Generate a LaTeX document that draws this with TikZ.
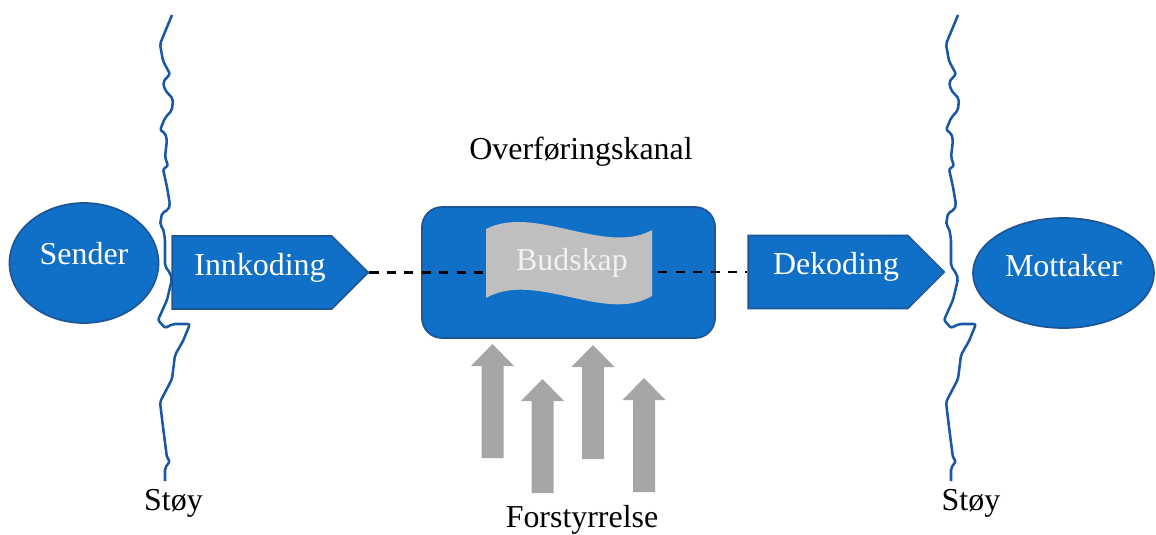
\documentclass[tikz,border=0pt]{standalone}
\usepackage{fontspec}
\setmainfont{Liberation Serif}
\usetikzlibrary{shapes.symbols}
\usetikzlibrary{shapes.geometric}

\definecolor{boxblue}{RGB}{16,111,198}
\definecolor{edgeblue}{RGB}{30,85,150}
\definecolor{noiseblue}{RGB}{25,88,165}
\definecolor{msggray}{RGB}{191,191,191}
\definecolor{pushgray}{RGB}{166,166,166}

\begin{document}
\begin{tikzpicture}[x=0.025cm, y=-0.025cm,
    every node/.style={font=\fontsize{22.7}{27}\selectfont},
    party/.style={ellipse, draw=edgeblue, fill=boxblue, line width=1.2pt, text=white, inner sep=0pt},
    coder/.style={signal, signal to=east, signal pointer angle=90, draw=edgeblue, fill=boxblue,
      line width=1.2pt, text=white, inner sep=0pt, text depth=0.42cm,
      minimum width=4.9cm, minimum height=1.825cm},
    noise/.style={draw=noiseblue, line width=1.8pt, line join=round, rounded corners=1.5pt},
    push/.style={fill=pushgray},
    link/.style={line width=1.9pt, dash pattern=on 6.5pt off 5.9pt}]

        \useasboundingbox (0,0) rectangle (1156,534);

        % Noise lines (left and right)
        \foreach \sx in {0,786}{
          \begin{scope}[shift={(\sx,0)}]
            \draw[noise] (172,15) -- (160,44) -- (163,61) -- (170,74) -- (163,82) -- (165,90)
              -- (173,99) -- (172,110) -- (165,118) -- (160,130) -- (165,133) -- (167,140)
              -- (165,157) -- (168,166) -- (163,169) -- (167,187) -- (170,205) -- (168,210)
              -- (162,213) -- (160,225) -- (163,228) -- (165,239) -- (165,266) -- (170,273)
              -- (172,279) -- (167,300) -- (158,320) -- (165,328) -- (173,324) -- (190,324)
              -- (183,341) -- (175,355) -- (172,379) -- (160,402) -- (163,427) -- (167,458)
              -- (170,461) -- (165,468) -- (165,481);
          \end{scope}
        }
        \node (stoyL) at (173.5,503) {Støy};
        \node (stoyR) at (971,503) {Støy};

        % Sender and receiver
        \node[party, text depth=0.5cm, minimum width=3.725cm, minimum height=3cm] (sender) at (84,263) {Sender};
        \node[party, text depth=0.4cm, minimum width=4.525cm, minimum height=2.75cm] (mottaker) at (1063.5,273) {Mottaker};

        % Coding steps
        \node[coder] (innkoding) at (252,272.5) {\hspace*{0.4cm}Innkoding};
        \node[coder] (dekoding) at (828,272) {\hspace*{0.4cm}Dekoding};

        % Channel
        \node[draw=edgeblue, fill=boxblue, line width=1.2pt, rounded corners=5mm, inner sep=0pt,
          minimum width=7.325cm, minimum height=3.275cm] (kanal) at (568.5,272.5) {};
        \node (kanaltekst) at (581,152) {Overføringskanal};

        % Message
        \fill[msggray] (486,229) .. controls (535,204) and (605,256) .. (652,230) -- (652,296)
          .. controls (605,324) and (535,270) .. (486,298) -- cycle;
        \node[text=white!95!black, inner sep=0pt, minimum width=4.3cm, minimum height=1.6cm] (budskap) at (572,262.5) {Budskap};

        \draw[link] (innkoding.east) -- (innkoding.east -| budskap.west);
        \draw[link] (budskap.east |- dekoding.west) -- (dekoding.west);

        % Disturbances
        \foreach \ax/\ay in {492.5/344, 542.5/379, 593/345, 644/378}
          \fill[push] (\ax-11,\ay+114) -- (\ax-11,\ay+22) -- (\ax-21.5,\ay+22) -- (\ax,\ay)
            -- (\ax+21.5,\ay+22) -- (\ax+11,\ay+22) -- (\ax+11,\ay+114) -- cycle;
        \node (forstyrrelse) at (582,519.5) {Forstyrrelse};

\end{tikzpicture}
\end{document}
